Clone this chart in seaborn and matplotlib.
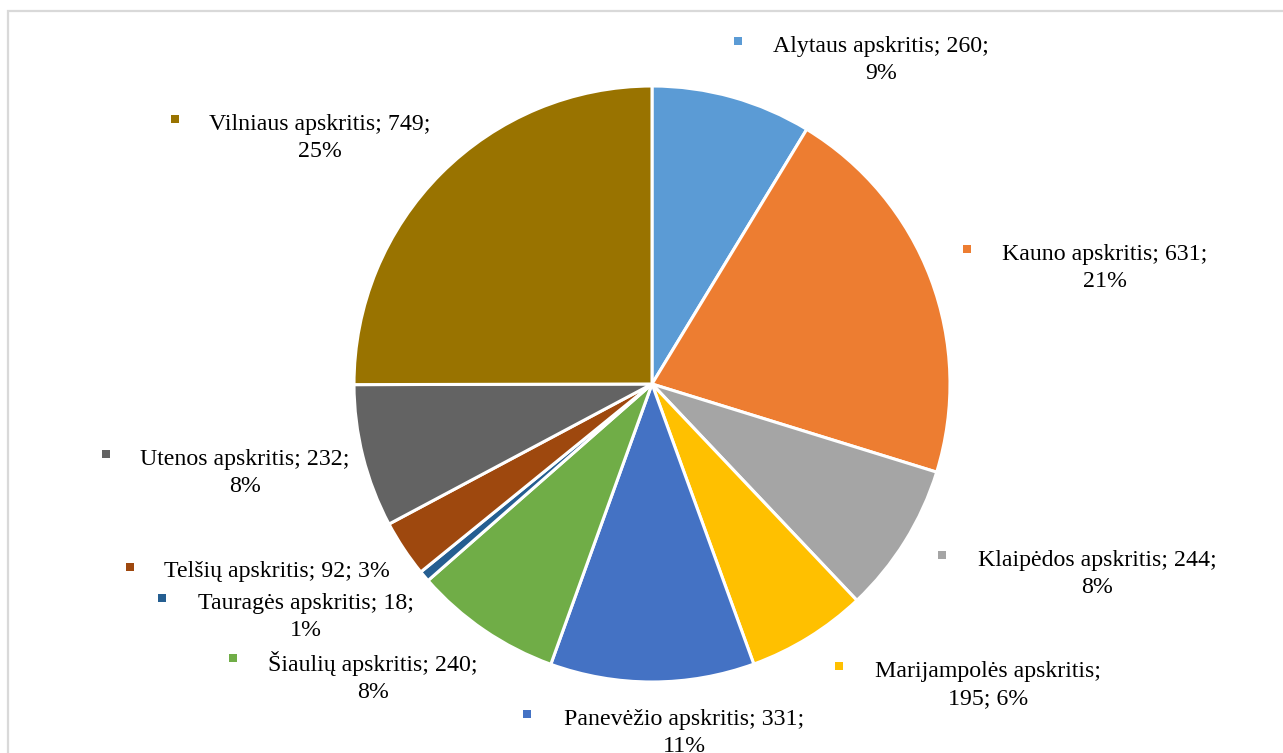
import numpy as np
import seaborn as sns
import matplotlib.pyplot as plt
from matplotlib.patches import Rectangle

# data
regions = ["Alytaus apskritis", "Kauno apskritis", "Klaipėdos apskritis",
           "Marijampolės apskritis", "Panevėžio apskritis", "Šiaulių apskritis",
           "Tauragės apskritis", "Telšių apskritis", "Utenos apskritis",
           "Vilniaus apskritis"]
counts = [260, 631, 244, 195, 331, 240, 18, 92, 232, 749]
percents = [9, 21, 8, 6, 11, 8, 1, 3, 8, 25]
# where the label wraps: 2 = before percent, 1 = before count, 0 = one line
wraps = [2, 2, 2, 1, 2, 2, 2, 0, 2, 2]

colors = ["#5B9BD5", "#ED7D31", "#A5A5A5", "#FFC000", "#4472C4",
          "#70AD47", "#255E91", "#9E480E", "#636363", "#997300"]

# label layout in image pixels: marker x, text centre x, first line y
label_pos = [(738, 881, 44), (967, 1105, 252), (942, 1097, 558),
             (839, 988, 669), (527, 684, 717), (233, 373, 661),
             (162, 306, 601), (130, 277, 570), (106, 245, 457),
             (175, 320, 122)]

W, H = 1283, 753
LINE = 27.5


def make_label(name, n, p, wrap):
    seps = [" ", " "]
    if wrap:
        seps[wrap - 1] = "\n"
    return f"{name};{seps[0]}{n};{seps[1]}{p}%"


def main():
    sns.set_theme(style="white")
    plt.rcParams["font.family"] = ["Liberation Serif", "DejaVu Serif"]

    fig = plt.figure(figsize=(W / 100, H / 100), dpi=100)
    ax = fig.add_axes([0, 0, 1, 1])

    ax.pie(counts, colors=colors, startangle=90, counterclock=False,
           center=(652, H - 384), radius=298,
           wedgeprops=dict(edgecolor="white", linewidth=2.2))
    ax.set_xlim(0, W)
    ax.set_ylim(0, H)
    ax.set_aspect("auto")
    ax.axis("off")

    for i, name in enumerate(regions):
        mx, tx, ty = label_pos[i]
        text = make_label(name, counts[i], percents[i], wraps[i])
        nlines = text.count("\n") + 1
        cy = ty + 2 + (nlines - 1) * LINE / 2
        ax.text(tx, H - cy, text, ha="center", va="center",
                multialignment="center", fontsize=17.2, linespacing=1.38,
                color="black")
        ax.plot(mx, H - ty + 3, marker="s", markersize=5.8,
                color=colors[i], markeredgewidth=0)

    ax.add_patch(Rectangle((7.5, -20), W + 20, H - 10.5 + 20, fill=False,
                           edgecolor="#D9D9D9", linewidth=1.6, clip_on=False))

    fig.savefig("out.png", dpi=100, facecolor="white")
    plt.close(fig)


if __name__ == "__main__":
    main()
